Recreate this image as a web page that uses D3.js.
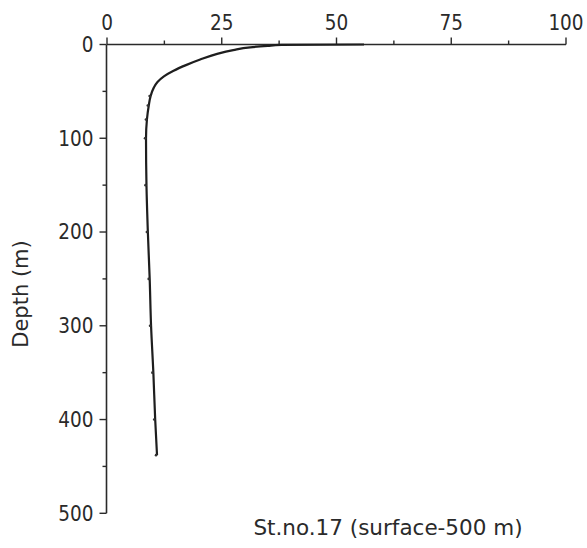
<!DOCTYPE html>
<html><head><meta charset="utf-8">
<script src="https://cdn.jsdelivr.net/npm/d3@7"></script>
<style>
html,body{margin:0;padding:0;background:#fff;}
svg text{font-family:'DejaVu Sans Condensed','DejaVu Sans',sans-serif;font-stretch:condensed;fill:#2a2a2a;}
svg text.wide{font-family:'DejaVu Sans',sans-serif;font-stretch:normal;}
</style></head>
<body><svg id="c" width="587" height="548"></svg>
<script>
const depths = [0, 0.5, 1.5, 3, 6, 10, 16, 22, 28, 34, 40, 46, 55, 65, 80, 100, 150, 200, 250, 300, 350, 400, 438];
const values = [56, 38, 35, 31.2, 27.5, 24, 20.3, 17.2, 14.5, 12.4, 11, 10.2, 9.5, 9.1, 8.7, 8.5, 8.6, 8.9, 9.3, 9.6, 10.1, 10.5, 10.9];
const xTicks = [0, 25, 50, 75, 100];
const yTicks = [0, 100, 200, 300, 400, 500];
const yLabel = "Depth (m)";
const caption = "St.no.17 (surface-500 m)";

const svg = d3.select("#c");
const x = d3.scaleLinear().domain([0, 100]).range([107, 566]);
const y = d3.scaleLinear().domain([0, 500]).range([44.5, 513.3]);
const ink = "#2a2a2a";

// x axis (top)
const gx = svg.append("g").attr("transform", `translate(0,${y(0)})`);
gx.append("line").attr("x1", x(0)).attr("x2", x(100)).attr("stroke", ink).attr("stroke-width", 1.6);
gx.selectAll(".mx").data(d3.range(0, 100.01, 12.5)).join("line")
  .attr("x1", d => x(d)).attr("x2", d => x(d))
  .attr("y1", 0).attr("y2", d => (d % 25 === 0 ? -7 : -4))
  .attr("stroke", ink).attr("stroke-width", 1.4);
gx.selectAll("text").data(xTicks).join("text")
  .attr("x", d => x(d)).attr("y", -14.5)
  .attr("text-anchor", "middle").attr("font-size", 20.5).text(d => d);

// y axis (left)
const gy = svg.append("g").attr("transform", `translate(106.5,0)`);
gy.append("line").attr("y1", y(0)).attr("y2", y(500)).attr("stroke", ink).attr("stroke-width", 1.6);
gy.selectAll("line.t").data(d3.range(0, 500.01, 50)).join("line").attr("class", "t")
  .attr("y1", d => y(d)).attr("y2", d => y(d))
  .attr("x1", 0).attr("x2", d => (d % 100 === 0 ? -7 : -4))
  .attr("stroke", ink).attr("stroke-width", 1.4);
gy.selectAll("text").data(yTicks).join("text")
  .attr("x", -13).attr("y", d => y(d)).attr("dy", "0.36em")
  .attr("text-anchor", "end").attr("font-size", 20.5).text(d => d);

// axis title
svg.append("text").attr("class", "wide").attr("transform", `translate(28,294) rotate(-90)`)
  .attr("text-anchor", "middle").attr("font-size", 21).text(yLabel);
svg.append("text").attr("class", "wide").attr("x", 388).attr("y", 535)
  .attr("text-anchor", "middle").attr("font-size", 21.5).text(caption);

// profile
const data = depths.map((d, i) => ({ d, v: values[i] }));
const line = d3.line().x(p => x(p.v)).y(p => y(p.d)).curve(d3.curveMonotoneY);
svg.append("path").datum(data).attr("d", line)
  .attr("fill", "none").attr("stroke", "#1e1e1e").attr("stroke-width", 2.2);
svg.selectAll("circle.p").data(data.slice(12)).join("circle").attr("class", "p")
  .attr("cx", p => x(p.v) - 1).attr("cy", p => y(p.d)).attr("r", 1.3).attr("fill", "#333");
</script></body></html>
